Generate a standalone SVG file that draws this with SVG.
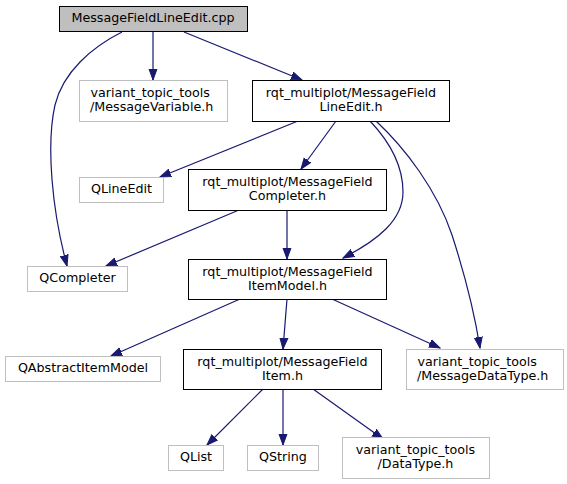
<svg xmlns="http://www.w3.org/2000/svg" width="567" height="484" viewBox="0 0 567 484">
<defs>
<style>
.n rect{fill:#ffffff;stroke:#000000;stroke-width:1}
.n.ext rect{stroke:#bfbfbf}
.n.root rect{fill:#bfbfbf}
text{font-family:"DejaVu Sans","Liberation Sans",sans-serif;font-size:12.7px;fill:#000000}
.c{text-anchor:middle}
.e path{fill:none;stroke:#191970;stroke-width:1.2}
</style>
<marker id="arr" markerUnits="userSpaceOnUse" markerWidth="12" markerHeight="10" refX="11" refY="5" orient="auto">
<path d="M0,1 L11,5 L0,9 z" fill="#191970" stroke="#191970" stroke-width="1"/>
</marker>
</defs>
<rect width="567" height="484" fill="#ffffff"/>
<g id="edges" class="e">
<path d="M122,32 C92,47 63,72 55,105 C46,145 52,210 67,266" marker-end="url(#arr)"/>
<path d="M153,31 L153,80" marker-end="url(#arr)"/>
<path d="M184,32 L302,80" marker-end="url(#arr)"/>
<path d="M298,121 L160,177" marker-end="url(#arr)"/>
<path d="M336,121 L301,169" marker-end="url(#arr)"/>
<path d="M370,121 C388,140 403,165 403,192 C403,220 378,240 343,258" marker-end="url(#arr)"/>
<path d="M376,121 C405,148 437,190 452,235 C464,272 474,310 480,348" marker-end="url(#arr)"/>
<path d="M239,210 L106,266" marker-end="url(#arr)"/>
<path d="M287,210 L287,259" marker-end="url(#arr)"/>
<path d="M240,299 L111,356" marker-end="url(#arr)"/>
<path d="M287,299 L283,349" marker-end="url(#arr)"/>
<path d="M332,299 L440,348" marker-end="url(#arr)"/>
<path d="M263,389 L207,445" marker-end="url(#arr)"/>
<path d="M283,389 L283,445" marker-end="url(#arr)"/>
<path d="M313,389 L383,439" marker-end="url(#arr)"/>
</g>
<g id="node_root" class="n root">
<rect x="59.5" y="6.5" width="188" height="25"/>
<text class="c" x="153" y="22">MessageFieldLineEdit.cpp</text>
</g>
<g id="node_messagevariable" class="n ext">
<rect x="79.5" y="80.5" width="148" height="41"/>
<text x="90.5" y="97">variant_topic_tools</text>
<text x="90" y="111">/MessageVariable.h</text>
</g>
<g id="node_lineedit_h" class="n">
<rect x="252.5" y="80.5" width="197" height="41"/>
<text class="c" x="351" y="97">rqt_multiplot/MessageField</text>
<text class="c" x="351" y="111">LineEdit.h</text>
</g>
<g id="node_qlineedit" class="n ext">
<rect x="79.5" y="177.5" width="84" height="25"/>
<text class="c" x="121.5" y="193">QLineEdit</text>
</g>
<g id="node_completer_h" class="n">
<rect x="188.5" y="169.5" width="198" height="41"/>
<text class="c" x="287.5" y="186">rqt_multiplot/MessageField</text>
<text class="c" x="287.5" y="200">Completer.h</text>
</g>
<g id="node_qcompleter" class="n ext">
<rect x="27.5" y="266.5" width="100" height="25"/>
<text class="c" x="77.5" y="282">QCompleter</text>
</g>
<g id="node_itemmodel_h" class="n">
<rect x="188.5" y="259.5" width="198" height="40"/>
<text class="c" x="287.5" y="276">rqt_multiplot/MessageField</text>
<text class="c" x="287.5" y="290">ItemModel.h</text>
</g>
<g id="node_qabstractitemmodel" class="n ext">
<rect x="5.5" y="356.5" width="155" height="25"/>
<text class="c" x="83" y="372">QAbstractItemModel</text>
</g>
<g id="node_item_h" class="n">
<rect x="183.5" y="349.5" width="198" height="40"/>
<text class="c" x="282.5" y="366">rqt_multiplot/MessageField</text>
<text class="c" x="282.5" y="380">Item.h</text>
</g>
<g id="node_messagedatatype" class="n ext">
<rect x="406.5" y="349.5" width="157" height="40"/>
<text x="417.5" y="366">variant_topic_tools</text>
<text x="417" y="380">/MessageDataType.h</text>
</g>
<g id="node_qlist" class="n ext">
<rect x="168.5" y="445.5" width="55" height="25"/>
<text class="c" x="196" y="461">QList</text>
</g>
<g id="node_qstring" class="n ext">
<rect x="247.5" y="445.5" width="71" height="25"/>
<text class="c" x="283" y="461">QString</text>
</g>
<g id="node_datatype" class="n ext">
<rect x="342.5" y="437.5" width="147" height="41"/>
<text class="c" x="415.5" y="454">variant_topic_tools</text>
<text class="c" x="415.5" y="468">/DataType.h</text>
</g>
</svg>
